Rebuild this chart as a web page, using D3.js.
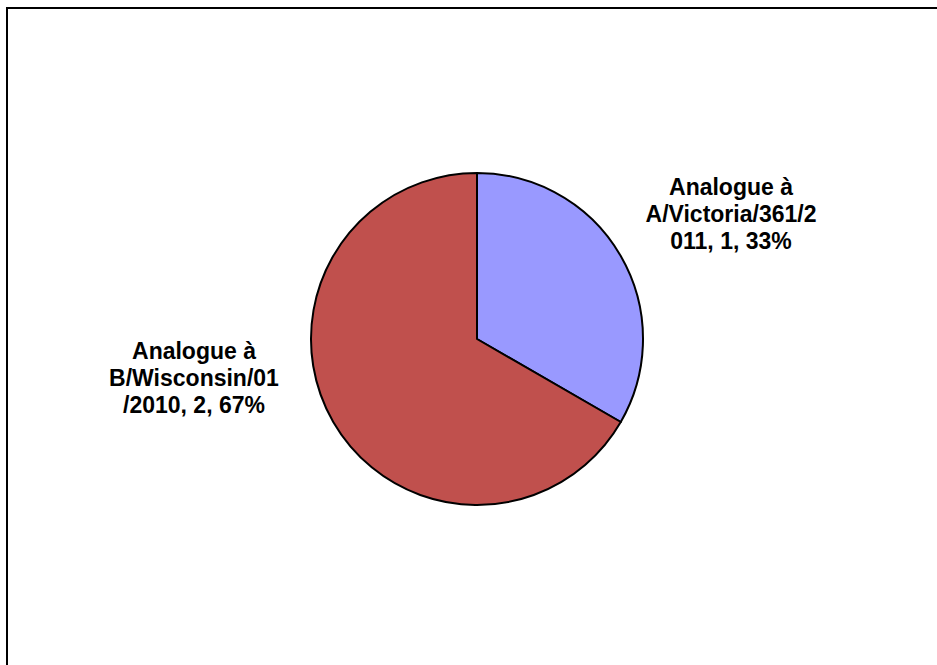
<!DOCTYPE html>
<html>
<head>
<meta charset="utf-8">
<script src="https://cdn.jsdelivr.net/npm/d3@7"></script>
<style>
  body { margin: 0; background: #fff; }
  svg text { font-family: Arial, "Liberation Sans", sans-serif; font-weight: bold; }
</style>
</head>
<body>
<svg id="chart" width="937" height="665"></svg>
<script>
// Chart data
var categories = ['Analogue à A/Victoria/361/2011', 'Analogue à B/Wisconsin/01/2010'];
var values = [1, 2];
var colors = ['#9999FF', '#C0504D'];
// Label lines as they wrap in the original
var labelLines = [
    ['Analogue à', 'A/Victoria/361/2', '011, 1, 33%'],
    ['Analogue à', 'B/Wisconsin/01', '/2010, 2, 67%']
];

var svg = d3.select('#chart');

// Outer frame (runs off the right and bottom edges)
svg.append('rect')
    .attr('x', 7).attr('y', 8)
    .attr('width', 960).attr('height', 700)
    .attr('fill', 'none')
    .attr('stroke', '#000')
    .attr('stroke-width', 2);

var cx = 477, cy = 339, radius = 166;

var pie = d3.pie().sort(null).value(function(d) { return d; });
var arc = d3.arc().innerRadius(0).outerRadius(radius);
var arcs = pie(values);

var g = svg.append('g').attr('transform', 'translate(' + cx + ',' + cy + ')');

g.selectAll('path')
    .data(arcs)
    .enter()
    .append('path')
    .attr('d', arc)
    .attr('fill', function(d, i) { return colors[i]; })
    .attr('stroke', '#000')
    .attr('stroke-width', 2)
    .attr('stroke-linejoin', 'round');

// Labels placed outside the slices (best fit style)
var labelOffset = [[254, -144], [-283, 20]];
var lineHeight = 27;

var labels = g.selectAll('text.lbl')
    .data(arcs)
    .enter()
    .append('text')
    .attr('class', 'lbl')
    .attr('text-anchor', 'middle')
    .attr('font-size', '23px')
    .attr('fill', '#000')
    .attr('transform', function(d, i) {
        return 'translate(' + labelOffset[i][0] + ',' + labelOffset[i][1] + ')';
    });

labels.each(function(d, i) {
    var t = d3.select(this);
    labelLines[i].forEach(function(line, j) {
        t.append('tspan')
            .attr('x', 0)
            .attr('y', j * lineHeight)
            .text(line);
    });
});
</script>
</body>
</html>
